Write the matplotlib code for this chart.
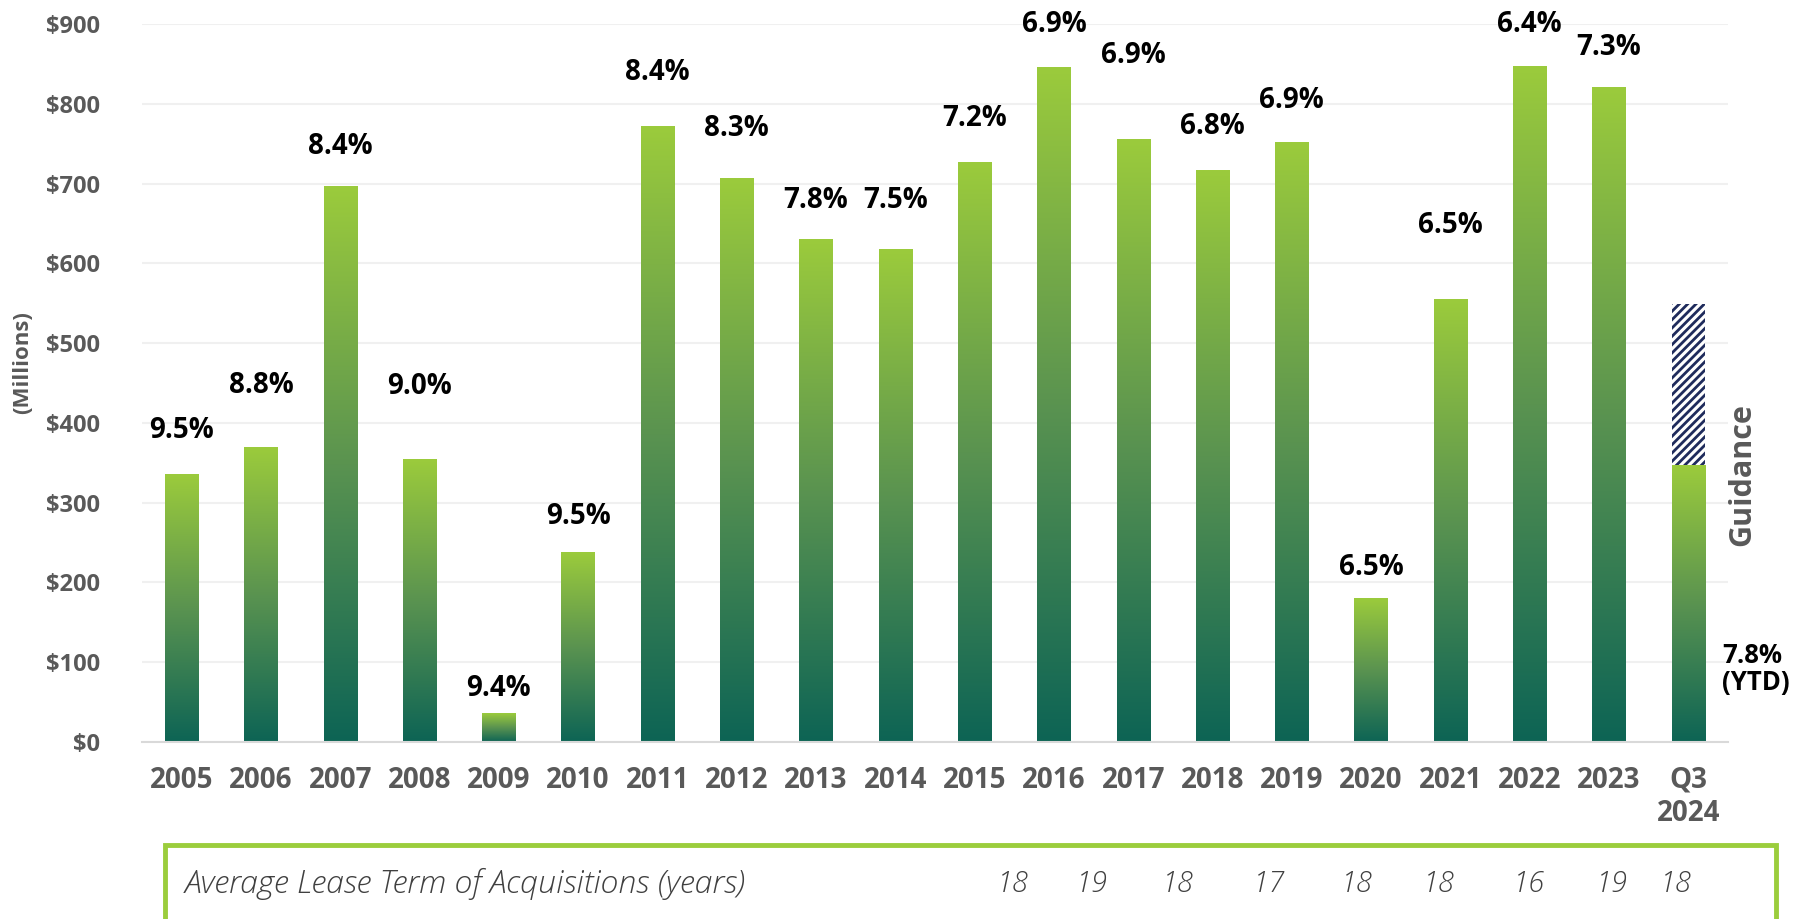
import matplotlib.pyplot as plt
import numpy as np
from matplotlib.colors import LinearSegmentedColormap
from matplotlib.patches import Rectangle

plt.rcParams['font.family'] = ['Open Sans', 'DejaVu Sans']
plt.rcParams['hatch.linewidth'] = 2.0

years = ['2005', '2006', '2007', '2008', '2009', '2010', '2011', '2012', '2013', '2014',
         '2015', '2016', '2017', '2018', '2019', '2020', '2021', '2022', '2023', 'Q3\n2024']
volume = [335, 369, 696, 354, 36, 237, 771, 706, 630, 617,
          727, 846, 755, 716, 751, 180, 555, 847, 820, 347]
guidance_total = 549
cap_rates = ['9.5%', '8.8%', '8.4%', '9.0%', '9.4%', '9.5%', '8.4%', '8.3%', '7.8%', '7.5%',
             '7.2%', '6.9%', '6.9%', '6.8%', '6.9%', '6.5%', '6.5%', '6.4%', '7.3%']
ytd_label = '7.8%\n(YTD)'
lease_terms = ['18', '19', '18', '17', '18', '18', '16', '19', '18']

# where the rate labels sit (in $M), they float above bars unevenly
label_y = [390, 447, 747, 446, 67, 283, 839, 769, 679, 679,
           781, 900, 861, 771, 804, 219, 647, 900, 871]
# x pixel positions of the lease term numbers in the box
lease_x = [1013, 1092, 1178, 1269, 1357, 1439, 1529, 1612, 1676]

W, H = 1793, 919
fig = plt.figure(figsize=(W / 100, H / 100), dpi=100)
ax = fig.add_axes([142 / W, 1 - 742 / H, (1728 - 142) / W, (742 - 24) / H])

x = np.arange(len(years))
cmap = LinearSegmentedColormap.from_list('g', ['#0d6455', '#5a9350', '#9bcb3c'])
grad = np.linspace(0, 1, 256).reshape(-1, 1)

bars = ax.bar(x, volume, width=0.42, color='none', linewidth=0, zorder=2)
for b in bars:
    x0, y0 = b.get_x(), b.get_y()
    ax.imshow(grad, cmap=cmap, origin='lower', aspect='auto', interpolation='bilinear',
              extent=(x0, x0 + b.get_width(), y0, y0 + b.get_height()), zorder=2)

ax.bar(x[-1], guidance_total - volume[-1], bottom=volume[-1], width=0.42,
       color='white', edgecolor='#1f2b5c', hatch='////', linewidth=0, zorder=2)

for i, (lab, ly) in enumerate(zip(cap_rates, label_y)):
    ax.text(x[i], ly, lab, ha='center', va='center', fontsize=20, fontweight='bold',
            color='black', clip_on=False)

ax.text(x[-1] + 0.43, 92, ytd_label, ha='left', va='center', fontsize=18.5,
        fontweight='bold', color='black', linespacing=1.0)

ax.set_xlim(-0.5, len(years) - 0.5)
ax.set_ylim(0, 900)
ax.set_yticks(np.arange(0, 901, 100))
ax.set_yticklabels([f'${v}' for v in range(0, 901, 100)], fontsize=17)
ax.set_xticks(x)
ax.set_xticklabels(years, linespacing=1.2, va='top', fontsize=20)
ax.tick_params(axis='both', length=0, labelcolor='#595959')
ax.tick_params(axis='y', pad=30)
ax.tick_params(axis='x', pad=17)
for t in ax.get_xticklabels() + ax.get_yticklabels():
    t.set_fontweight('bold')

ax.grid(axis='y', color='#f0f0f0', linewidth=1.5, zorder=0)
ax.set_axisbelow(True)
for s in ['top', 'right', 'left']:
    ax.spines[s].set_visible(False)
ax.spines['bottom'].set_color('#d9d9d9')
ax.spines['bottom'].set_linewidth(1.5)

fig.text(23 / W, 1 - 363 / H, '(Millions)', rotation=90, ha='center', va='center',
         fontsize=16, fontweight='bold', color='#595959')
fig.text(1742 / W, 1 - 475 / H, 'Guidance', rotation=90, ha='center', va='center',
         fontsize=22, fontweight='bold', color='#595959')

# lease term box
fig.patches.append(Rectangle((165 / W, -0.05), (1776 - 165) / W, 0.05 + 1 - 845 / H,
                             transform=fig.transFigure, fill=False,
                             edgecolor='#9bcd3c', linewidth=3.5))
fig.text(185 / W, 1 - 884 / H, 'Average Lease Term of Acquisitions (years)', ha='left',
         va='center', fontsize=23, style='italic', fontweight='light', color='#404040')
for lx, lt in zip(lease_x, lease_terms):
    fig.text(lx / W, 1 - 884 / H, lt, ha='center', va='center', fontsize=21,
             style='italic', fontweight='light', color='#404040')

fig.savefig('out.png', dpi=100)
